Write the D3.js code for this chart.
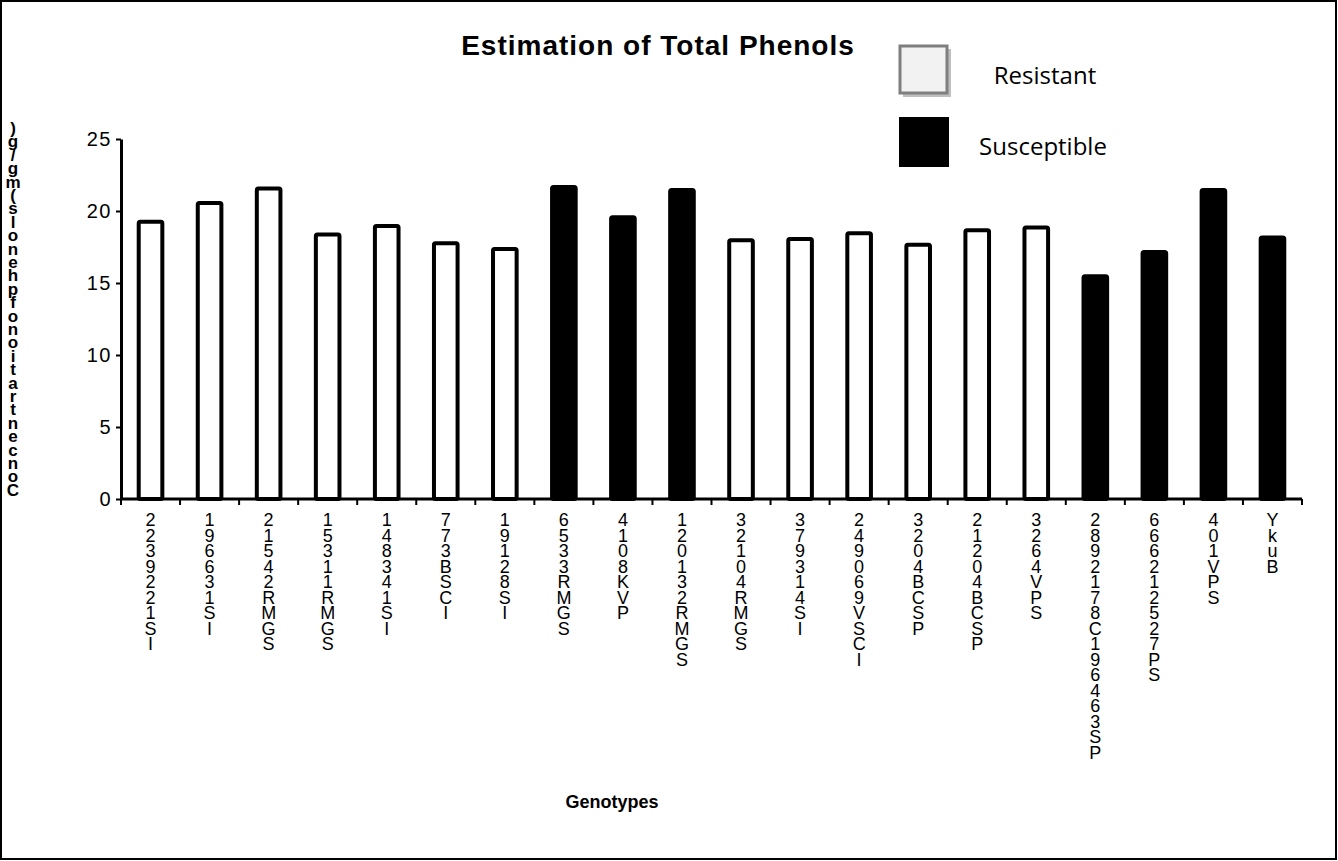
<!DOCTYPE html>
<html>
<head>
<meta charset="utf-8">
<script src="https://cdn.jsdelivr.net/npm/d3@7"></script>
<style>
  body { margin: 0; background: #fff; }
  text { font-family: "Liberation Sans", Arial, sans-serif; }
</style>
</head>
<body>
<div id="container"></div>
<script>
// genotype labels as they appear stacked under the axis
var genotypes = [
  "2239221SI", "196631SI", "21542RMGS", "15311RMGS", "148341SI",
  "773BSCI", "19128SI", "6533RMGS", "4108KVP", "120132RMGS",
  "32104RMGS", "379314SI", "249069VSCI", "3204BCSP", "21204BCSP",
  "3264VPS", "2892178C196463SP", "666212527PS", "401VPS", "YkuB"
];
var phenols = [19.4, 20.7, 21.7, 18.5, 19.1, 17.9, 17.5, 21.8, 19.7, 21.6,
               18.1, 18.2, 18.6, 17.8, 18.8, 19.0, 15.6, 17.3, 21.6, 18.3];
var group = ["R","R","R","R","R","R","R","S","S","S",
             "R","R","R","R","R","R","S","S","S","S"];
var yTicks = [0, 5, 10, 15, 20, 25];
var legendItems = ["Resistant", "Susceptible"];

var W = 1338, H = 861;
var margin = {top: 139, right: 36, bottom: 362, left: 121},
    width = W - margin.left - margin.right,
    height = H - margin.top - margin.bottom;

var root = d3.select("#container")
  .append("svg")
    .attr("width", W)
    .attr("height", H);

// outer frame
root.append("rect")
  .attr("x", 1).attr("y", 1)
  .attr("width", W - 3).attr("height", H - 3)
  .attr("fill", "#fff")
  .attr("stroke", "#000")
  .attr("stroke-width", 2);

var svg = root.append("g")
  .attr("transform", "translate(" + margin.left + "," + margin.top + ")");

var idx = d3.range(genotypes.length);
var x = d3.scaleBand()
  .domain(idx)
  .range([0, width])
  .paddingInner(0.6)
  .paddingOuter(0.3);

var y = d3.scaleLinear()
  .domain([0, 25])
  .range([height, 0]);

// bars
svg.append("g")
  .selectAll("rect")
  .data(idx)
  .enter()
  .append("rect")
    .attr("x", i => x(i))
    .attr("y", i => y(phenols[i]) + 2)
    .attr("width", x.bandwidth())
    .attr("height", i => height - y(phenols[i]) - 2)
    .attr("rx", 1.5)
    .attr("fill", i => group[i] == "R" ? "#fff" : "#000")
    .attr("stroke", "#000")
    .attr("stroke-width", 4);

// y axis
var yAxis = svg.append("g")
  .call(d3.axisLeft(y).tickValues(yTicks).tickSize(5).tickPadding(4).tickSizeOuter(0));
yAxis.select(".domain").attr("stroke-width", 3);
yAxis.selectAll(".tick line").attr("stroke-width", 2);
yAxis.selectAll("text")
  .style("font-size", "20px")
  .style("letter-spacing", "1.5px")
  .attr("fill", "#000");

// x axis: line with ticks at category boundaries
var step = x.step();
var bounds = d3.range(genotypes.length + 1).map(i => i * step);
var xAxis = svg.append("g")
  .attr("transform", "translate(0," + height + ")");
xAxis.append("line")
  .attr("x1", 0).attr("x2", width)
  .attr("stroke", "#000").attr("stroke-width", 3);
xAxis.selectAll(".bt")
  .data(bounds)
  .enter()
  .append("line")
    .attr("class", "bt")
    .attr("x1", d => d).attr("x2", d => d)
    .attr("y1", 0).attr("y2", 6)
    .attr("stroke", "#000").attr("stroke-width", 2);

// stacked tick labels
var labels = xAxis.selectAll(".lab")
  .data(idx)
  .enter()
  .append("text")
    .attr("class", "lab")
    .attr("text-anchor", "middle")
    .style("font-size", "18px")
    .attr("fill", "#000");
labels.each(function(i) {
  var t = d3.select(this);
  var cx = x(i) + x.bandwidth() / 2;
  genotypes[i].split("").forEach(function(ch, k) {
    t.append("tspan")
      .attr("x", cx)
      .attr("y", 27 + k * 15.5)
      .text(ch);
  });
});

// y label: characters stacked bottom to top
var yTitle = "Concentrationofphenols(mg/g)".split("").reverse();
var ylab = root.append("text")
  .attr("text-anchor", "middle")
  .style("font-size", "17px")
  .style("font-weight", "bold")
  .attr("fill", "#000");
yTitle.forEach(function(ch, k) {
  ylab.append("tspan")
    .attr("x", 13)
    .attr("y", 134 + k * 13.4)
    .text(ch);
});

// title
root.append("text")
  .attr("x", 658)
  .attr("y", 55)
  .attr("text-anchor", "middle")
  .style("font-size", "28px")
  .style("font-weight", "bold")
  .style("letter-spacing", "1px")
  .text("Estimation of Total Phenols");

// x label
root.append("text")
  .attr("x", 612)
  .attr("y", 808)
  .attr("text-anchor", "middle")
  .style("font-size", "18px")
  .style("font-weight", "bold")
  .text("Genotypes");

// legend
var leg = root.append("g");
leg.append("rect")
  .attr("x", 903).attr("y", 49)
  .attr("width", 48).attr("height", 48)
  .attr("fill", "#bfbfbf");
leg.append("rect")
  .attr("x", 900).attr("y", 46)
  .attr("width", 47).attr("height", 47)
  .attr("fill", "#f2f2f2")
  .attr("stroke", "#7f7f7f")
  .attr("stroke-width", 3);
leg.append("rect")
  .attr("x", 899).attr("y", 117)
  .attr("width", 50).attr("height", 50)
  .attr("fill", "#000");
leg.selectAll(".lt")
  .data(legendItems)
  .enter()
  .append("text")
    .attr("class", "lt")
    .attr("x", (d, i) => i == 0 ? 1045 : 1043)
    .attr("y", (d, i) => i == 0 ? 84 : 155)
    .attr("text-anchor", "middle")
    .style("font-family", "'Open Sans', sans-serif")
    .style("font-size", "24px")
    .attr("fill", "#000")
    .text(d => d);
</script>
</body>
</html>
